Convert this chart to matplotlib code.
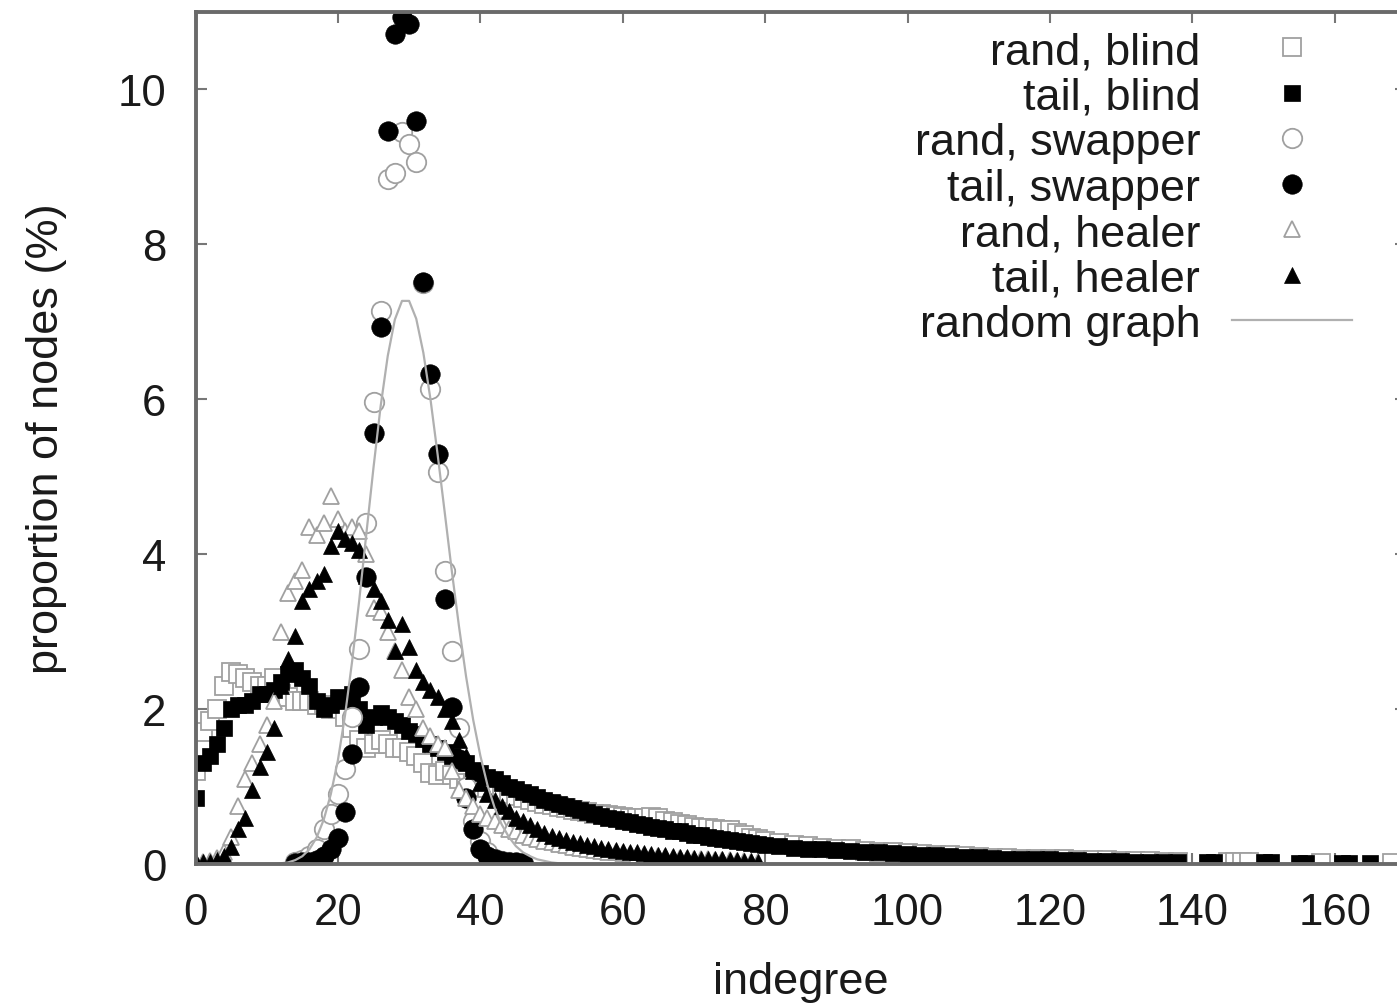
import numpy as np
import matplotlib
matplotlib.use('Agg')
import matplotlib.pyplot as plt

plt.rcParams['font.family'] = ['Liberation Sans', 'DejaVu Sans']

# ---- data (proportion of nodes in %) ----
# blind: dense part for indegree 0..79, then every 2 up to 138, then a few lone points
blind_x_dense = np.arange(0, 80)
blind_x_mid = np.arange(80, 140, 2)

tail_blind_dense = [
    0.85, 1.3, 1.4, 1.55, 1.75, 2.0, 2.05, 2.05, 2.1, 2.2,
    2.2, 2.25, 2.35, 2.45, 2.5, 2.4, 2.3, 2.1, 2.0, 2.05,
    2.15, 2.1, 2.2, 2.0, 1.8, 1.9, 1.95, 1.9, 1.85, 1.8,
    1.72, 1.68, 1.62, 1.55, 1.5, 1.45, 1.4, 1.35, 1.3, 1.22,
    1.18, 1.12, 1.1, 1.05, 1.0, 0.97, 0.93, 0.9, 0.87, 0.83,
    0.8, 0.77, 0.75, 0.72, 0.7, 0.67, 0.64, 0.62, 0.6, 0.58,
    0.56, 0.54, 0.52, 0.5, 0.48, 0.47, 0.45, 0.43, 0.42, 0.4,
    0.38, 0.37, 0.35, 0.34, 0.32, 0.31, 0.3, 0.28, 0.27, 0.26]
tail_blind_mid = [
    0.25, 0.23, 0.21, 0.2, 0.19, 0.18, 0.17, 0.16, 0.15, 0.14,
    0.13, 0.12, 0.11, 0.1, 0.09, 0.09, 0.08, 0.07, 0.07, 0.06,
    0.06, 0.05, 0.05, 0.04, 0.04, 0.04, 0.03, 0.03, 0.03, 0.03]
tail_blind_far_x = [142, 143, 150, 151, 155, 156, 161, 162, 165]
tail_blind_far = [0.02, 0.02, 0.02, 0.02, 0.01, 0.01, 0.01, 0.01, 0.01]

rand_blind_dense = [
    1.2, 1.7, 1.85, 2.0, 2.3, 2.48, 2.45, 2.4, 2.35, 2.3,
    2.3, 2.4, 2.2, 2.15, 2.1, 2.1, 2.1, 2.05, 2.05, 2.0,
    2.0, 1.9, 1.75, 1.6, 1.5, 1.55, 1.6, 1.55, 1.5, 1.5,
    1.45, 1.4, 1.3, 1.18, 1.15, 1.2, 1.15, 1.1, 1.05, 1.05,
    1.0, 0.98, 0.95, 0.92, 0.9, 0.88, 0.85, 0.83, 0.8, 0.78,
    0.76, 0.74, 0.72, 0.7, 0.68, 0.67, 0.65, 0.64, 0.63, 0.62,
    0.61, 0.6, 0.6, 0.6, 0.61, 0.6, 0.56, 0.54, 0.52, 0.5,
    0.48, 0.47, 0.46, 0.45, 0.44, 0.44, 0.4, 0.37, 0.34, 0.32]
rand_blind_mid = [
    0.3, 0.27, 0.25, 0.23, 0.21, 0.2, 0.19, 0.17, 0.16, 0.15,
    0.14, 0.13, 0.12, 0.11, 0.1, 0.09, 0.08, 0.08, 0.07, 0.07,
    0.06, 0.06, 0.05, 0.05, 0.05, 0.04, 0.04, 0.04, 0.03, 0.03]
rand_blind_far_x = [145, 146, 147, 148, 158, 168]
rand_blind_far = [0.02, 0.02, 0.02, 0.02, 0.01, 0.01]

# swapper: indegree 14..46
swap_x = np.arange(14, 47)
tail_swapper = [
    0.01, 0.02, 0.03, 0.05, 0.1, 0.2, 0.33, 0.67, 1.42, 2.28,
    3.7, 5.57, 6.93, 9.46, 10.71, 10.94, 10.84, 9.59, 7.52, 6.32,
    5.29, 3.42, 2.03, 1.35, 0.85, 0.45, 0.2, 0.1, 0.06, 0.04,
    0.03, 0.02, 0.01]
rand_swapper = [
    0.02, 0.05, 0.1, 0.2, 0.45, 0.65, 0.9, 1.23, 1.9, 2.77,
    4.4, 5.96, 7.14, 8.84, 8.92, 9.45, 9.3, 9.06, 7.5, 6.13,
    5.06, 3.78, 2.75, 1.75, 1.0, 0.55, 0.3, 0.15, 0.07, 0.04,
    0.02, 0.01, 0.01]

# healer: indegree 0..79
heal_x = np.arange(0, 80)
tail_healer = [
    0.02, 0.02, 0.03, 0.05, 0.1, 0.22, 0.45, 0.6, 0.95, 1.25,
    1.45, 1.75, 2.3, 2.65, 2.95, 3.4, 3.55, 3.65, 3.75, 4.1,
    4.3, 4.2, 4.15, 4.05, 3.72, 3.55, 3.4, 3.15, 2.75, 3.1,
    2.8, 2.5, 2.35, 2.25, 2.15, 2.0, 1.85, 1.6, 1.4, 1.2,
    1.05, 0.9, 0.82, 0.75, 0.68, 0.6, 0.55, 0.5, 0.45, 0.4,
    0.36, 0.33, 0.31, 0.29, 0.27, 0.25, 0.23, 0.21, 0.2, 0.18,
    0.17, 0.16, 0.15, 0.14, 0.13, 0.12, 0.11, 0.1, 0.09, 0.09,
    0.08, 0.07, 0.07, 0.06, 0.06, 0.05, 0.05, 0.04, 0.04, 0.03]
rand_healer = [
    0.01, 0.02, 0.04, 0.08, 0.15, 0.35, 0.75, 1.1, 1.3, 1.55,
    1.8, 2.1, 3.0, 3.5, 3.65, 3.8, 4.35, 4.25, 4.4, 4.75,
    4.45, 4.3, 4.35, 4.3, 4.0, 3.3, 3.25, 3.0, 2.75, 2.5,
    2.15, 2.0, 1.75, 1.65, 1.55, 1.5, 1.2, 0.95, 0.85, 0.75,
    0.65, 0.6, 0.55, 0.5, 0.45, 0.42, 0.38, 0.35, 0.32, 0.3,
    0.28, 0.26, 0.24, 0.22, 0.21, 0.2, 0.18, 0.17, 0.16, 0.15,
    0.14, 0.13, 0.12, 0.11, 0.1, 0.1, 0.09, 0.08, 0.08, 0.07,
    0.07, 0.06, 0.06, 0.05, 0.05, 0.05, 0.04, 0.04, 0.03, 0.03]

# random graph curve, indegree 10..55
rg_x = np.arange(10, 56)
random_graph = [
    0.0, 0.0, 0.01, 0.02, 0.05, 0.1, 0.19, 0.34, 0.57, 0.9,
    1.34, 1.92, 2.62, 3.41, 4.27, 5.12, 5.91, 6.56, 7.03, 7.27,
    7.27, 7.04, 6.6, 6.0, 5.29, 4.54, 3.78, 3.07, 2.42, 1.86,
    1.4, 1.02, 0.73, 0.51, 0.35, 0.23, 0.15, 0.1, 0.06, 0.04,
    0.02, 0.01, 0.01, 0.0, 0.0, 0.0]

xticks = [0, 20, 40, 60, 80, 100, 120, 140, 160]
yticks = [0, 2, 4, 6, 8, 10]

# ---- figure ----
W, H = 1397, 1004
fig = plt.figure(figsize=(W / 100, H / 100), dpi=100)
ax = fig.add_axes([195.5 / W, (H - 865) / H, (1406 - 195.5) / W, 852 / H])

gray_m = '#a0a0a0'
blk = 'black'

tb_x = np.concatenate([blind_x_dense, blind_x_mid, tail_blind_far_x])
tb_y = np.concatenate([tail_blind_dense, tail_blind_mid, tail_blind_far])
rb_x = np.concatenate([blind_x_dense, blind_x_mid, rand_blind_far_x])
rb_y = np.concatenate([rand_blind_dense, rand_blind_mid, rand_blind_far])

ax.plot(rb_x, rb_y, 's', ms=13, mfc='white', mec=gray_m, mew=1.3,
        label='rand, blind')
ax.plot(tb_x, tb_y, 's', ms=12, mfc=blk, mec=blk, mew=0.5,
        label='tail, blind')
ax.plot(swap_x, rand_swapper, 'o', ms=14, mfc='white', mec=gray_m, mew=1.3,
        label='rand, swapper')
ax.plot(swap_x, tail_swapper, 'o', ms=14, mfc=blk, mec=blk, mew=0.5,
        label='tail, swapper')
ax.plot(heal_x, rand_healer, '^', ms=12, mfc='white', mec=gray_m, mew=1.3,
        label='rand, healer')
ax.plot(heal_x, tail_healer, '^', ms=12, mfc=blk, mec=blk, mew=0.5,
        label='tail, healer')
ax.plot(rg_x, random_graph, '-', color='#b0b0b0', lw=1.6, label='random graph')

ax.set_xlim(0, 170)
ax.set_ylim(0, 11)
ax.set_xticks(xticks)
ax.set_yticks(yticks)

for sp in ax.spines.values():
    sp.set_color('#6a6a6a')
    sp.set_linewidth(2.8)

ax.tick_params(axis='both', direction='in', length=8, width=1.5,
               color='#777777', top=True, right=True,
               labelsize=31.5, labelcolor='#1a1a1a')
ax.tick_params(axis='x', pad=20)
ax.tick_params(axis='y', pad=21)

ax.set_xlabel('indegree', fontsize=32.5, color='#1a1a1a')
ax.set_ylabel('proportion of nodes (%)', fontsize=32.5, color='#1a1a1a')
ax.xaxis.set_label_coords(0.5, -0.114)
ax.yaxis.set_label_coords(-0.106, 0.5)

leg = ax.legend(loc='upper right', bbox_to_anchor=(1352 / W, (H - 32) / H),
                bbox_transform=fig.transFigure, frameon=False, markerfirst=False,
                fontsize=32.5, handlelength=2.66, handletextpad=0.7,
                labelspacing=0.10, borderpad=0, borderaxespad=0, numpoints=1)
for t in leg.get_texts():
    t.set_color('#1a1a1a')

fig.savefig('out.png', dpi=100)
